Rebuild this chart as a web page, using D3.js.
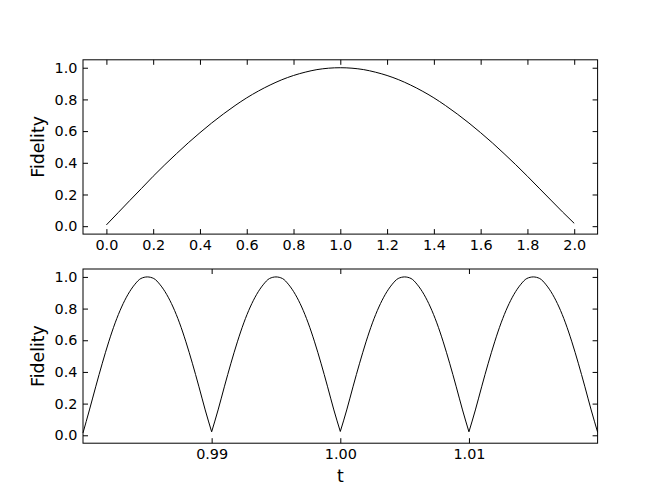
<!DOCTYPE html>
<html>
<head>
<meta charset="utf-8">
<title>Fidelity vs t</title>
<script src="https://cdn.jsdelivr.net/npm/d3@7"></script>
<style>
  body {margin: 0; background: #fff;}
  svg {display: block; font-family: "DejaVu Sans", sans-serif;}
  .tick line {stroke: #000; stroke-width: 1;}
  .tick text {font-family: "DejaVu Sans", sans-serif; font-size: 14.4px; fill: #000;}
  .frame {fill: none; stroke: #000; stroke-width: 1;}
  .curve {fill: none; stroke: #000; stroke-width: 1;}
  .label {font-family: "DejaVu Sans", sans-serif; font-size: 17.3px; fill: #000;}
</style>
</head>
<body>
<svg id="chart" width="664" height="498"></svg>
<script>
// top panel: slow oscillation over 0..2
var topT = [0.00,0.05,0.10,0.15,0.20,0.25,0.30,0.35,0.40,0.45,
            0.50,0.55,0.60,0.65,0.70,0.75,0.80,0.85,0.90,0.95,
            1.00,1.05,1.10,1.15,1.20,1.25,1.30,1.35,1.40,1.45,
            1.50,1.55,1.60,1.65,1.70,1.75,1.80,1.85,1.90,1.95,2.00];
var topF = [0.008,0.085,0.162,0.238,0.315,0.388,0.458,0.526,0.590,0.651,
            0.708,0.761,0.810,0.853,0.891,0.924,0.951,0.972,0.988,0.997,
            1.000,0.997,0.988,0.972,0.951,0.924,0.891,0.853,0.810,0.761,
            0.708,0.651,0.590,0.526,0.458,0.388,0.315,0.240,0.165,0.090,0.018];

// bottom panel: zoom on 0.98..1.02
var botT = [0.9800,0.9805,0.9810,0.9815,0.9820,0.9825,0.9830,0.9835,0.9840,0.9845,
            0.9850,0.9855,0.9860,0.9865,0.9870,0.9875,0.9880,0.9885,0.9890,0.9895,
            0.9900,0.9905,0.9910,0.9915,0.9920,0.9925,0.9930,0.9935,0.9940,0.9945,
            0.9950,0.9955,0.9960,0.9965,0.9970,0.9975,0.9980,0.9985,0.9990,0.9995,
            1.0000,1.0005,1.0010,1.0015,1.0020,1.0025,1.0030,1.0035,1.0040,1.0045,
            1.0050,1.0055,1.0060,1.0065,1.0070,1.0075,1.0080,1.0085,1.0090,1.0095,
            1.0100,1.0105,1.0110,1.0115,1.0120,1.0125,1.0130,1.0135,1.0140,1.0145,
            1.0150,1.0155,1.0160,1.0165,1.0170,1.0175,1.0180,1.0185,1.0190,1.0195,
            1.0200];
var botF = [0.015,0.16,0.31,0.455,0.59,0.71,0.81,0.89,0.95,0.99,
            1.00,0.99,0.95,0.89,0.81,0.71,0.59,0.455,0.31,0.16,
            0.022,0.16,0.31,0.455,0.59,0.71,0.81,0.89,0.95,0.99,
            1.00,0.99,0.95,0.89,0.81,0.71,0.59,0.455,0.31,0.16,
            0.024,0.16,0.31,0.455,0.59,0.71,0.81,0.89,0.95,0.99,
            1.00,0.99,0.95,0.89,0.81,0.71,0.59,0.455,0.31,0.16,
            0.022,0.16,0.31,0.455,0.59,0.71,0.81,0.89,0.95,0.99,
            1.00,0.99,0.95,0.89,0.81,0.71,0.59,0.455,0.31,0.16,
            0.020];

var topXTicks = [0.0,0.2,0.4,0.6,0.8,1.0,1.2,1.4,1.6,1.8,2.0];
var botXTicks = [0.99,1.00,1.01];
var yTicks = [0.0,0.2,0.4,0.6,0.8,1.0];

var svg = d3.select("#chart");
var left = 83, right = 597.6;
var tickLen = 5;

// split a series at its local minima so each arch is smooth but cusps stay sharp
function arches(fs) {
  var parts = [], start = 0;
  for (var i = 1; i < fs.length - 1; i++) {
    if (fs[i] < fs[i-1] && fs[i] < fs[i+1]) {
      parts.push([start, i]);
      start = i;
    }
  }
  parts.push([start, fs.length - 1]);
  return parts;
}

function panel(top, bottom, xDomain, xTicks, xFmt, ts, fs) {
  var x = d3.scaleLinear().domain(xDomain).range([left, right]);
  var y = d3.scaleLinear().domain([-0.05, 1.05]).range([bottom, top]);
  var g = svg.append("g");

  g.append("g")
    .attr("transform", "translate(0," + bottom + ")")
    .call(d3.axisBottom(x).tickValues(xTicks).tickFormat(d3.format(xFmt))
      .tickSize(-tickLen).tickPadding(6));
  g.append("g")
    .attr("transform", "translate(0," + top + ")")
    .call(d3.axisTop(x).tickValues(xTicks).tickFormat("").tickSize(-tickLen));
  g.append("g")
    .attr("transform", "translate(" + left + ",0)")
    .call(d3.axisLeft(y).tickValues(yTicks).tickFormat(d3.format(".1f"))
      .tickSize(-tickLen).tickPadding(5.5));
  g.append("g")
    .attr("transform", "translate(" + right + ",0)")
    .call(d3.axisRight(y).tickValues(yTicks).tickFormat("").tickSize(-tickLen));
  g.selectAll(".domain").remove();

  var line = d3.line()
    .x(function(d){ return x(ts[d]); })
    .y(function(d){ return y(fs[d]); })
    .curve(d3.curveMonotoneX);
  var d = arches(fs).map(function(p){
    return line(d3.range(p[0], p[1] + 1));
  }).join("");
  g.append("path")
    .attr("class", "curve")
    .attr("d", d);

  g.append("rect")
    .attr("class", "frame")
    .attr("x", left).attr("y", top)
    .attr("width", right - left).attr("height", bottom - top);

  g.append("text")
    .attr("class", "label")
    .attr("transform", "translate(44.3," + ((top + bottom) / 2) + ") rotate(-90)")
    .attr("text-anchor", "middle")
    .text("Fidelity");
}

panel(59.8, 234.1, [-0.1, 2.1], topXTicks, ".1f", topT, topF);
panel(269, 443.2, [0.98, 1.02], botXTicks, ".2f", botT, botF);

svg.append("text")
  .attr("class", "label")
  .attr("x", (left + right) / 2)
  .attr("y", 481.7)
  .attr("text-anchor", "middle")
  .text("t");
</script>
</body>
</html>
